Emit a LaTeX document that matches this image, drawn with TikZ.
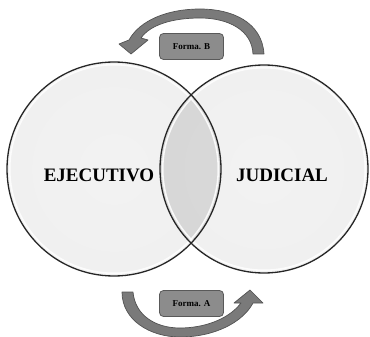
\documentclass[tikz,border=0pt]{standalone}
\usepackage{fontspec}
\setmainfont{Liberation Serif}
\pgfdeclareradialshading{glass}{\pgfpoint{0bp}{0bp}}{%
  color(0bp)=(black!5); color(28bp)=(black!6); color(38bp)=(black!10);
  color(45bp)=(black!20); color(49bp)=(black!34); color(50bp)=(black!45);
  color(100bp)=(black!45)}
\begin{document}
\begin{tikzpicture}[x=1pt,y=-1pt,
  ball/.style={circle, minimum size=#1, inner sep=0pt, shading=glass},
  rim/.style={draw=black!85, line width=1.3pt},
  shine/.style={draw=white, line width=1.6pt, opacity=0.85},
  bigword/.style={font=\bfseries\fontsize{19}{19}\selectfont, inner sep=0pt},
  formbox/.style={draw=black!65, fill=black!45, rounded corners=4pt, line width=0.8pt,
    minimum width=64pt, minimum height=26pt, font=\bfseries\fontsize{9}{9}\selectfont},
  turn/.style={fill=black!52, draw=black!68, line width=0.7pt, line join=round}]
\useasboundingbox (0,0) rectangle (370,337);

% the two overlapping spheres
\node[ball=214pt] (ejec) at (114,169) {};
\node[ball=208pt] (jud) at (264,169) {};

% darker lens where the spheres overlap
\begin{scope}
  \clip (114,169) circle (107);
  \fill[black, opacity=0.1] (264,169) circle (104);
\end{scope}

% glossy highlight just inside each rim
\draw[shine] (114,169) circle (104.3);
\draw[shine] (264,169) circle (101.3);
\draw[rim] (ejec.center) circle (107);
\draw[rim] (jud.center) circle (104);

\node[bigword] (ejtext) at (99,175) {EJECUTIVO};
\node[bigword] (judtext) at (282,175) {JUDICIAL};

% upper turning arrow (right to left)
\path[turn] (264,54) .. controls (262,22) and (232,9) .. (200,9)
  .. controls (168,9) and (140,20) .. (129,40)
  -- (119,44) -- (131,54) -- (148,40) -- (141,38)
  .. controls (150,25) and (172,18) .. (200,18)
  .. controls (228,18) and (252,30) .. (253,54) -- cycle;

% lower turning arrow (left to right)
\path[turn] (122,292) .. controls (122,320) and (150,337) .. (180,337)
  .. controls (215,337) and (243,322) .. (253,303)
  -- (263,303) -- (250,290) -- (234,303) -- (241,303)
  .. controls (228,320) and (203,328) .. (180,328)
  .. controls (155,328) and (135,315) .. (133,292) -- cycle;

\node[formbox] (fb) at (191.5,46.5) {Forma. B};
\node[formbox] (fa) at (191.5,303.5) {Forma. A};
\end{tikzpicture}
\end{document}
